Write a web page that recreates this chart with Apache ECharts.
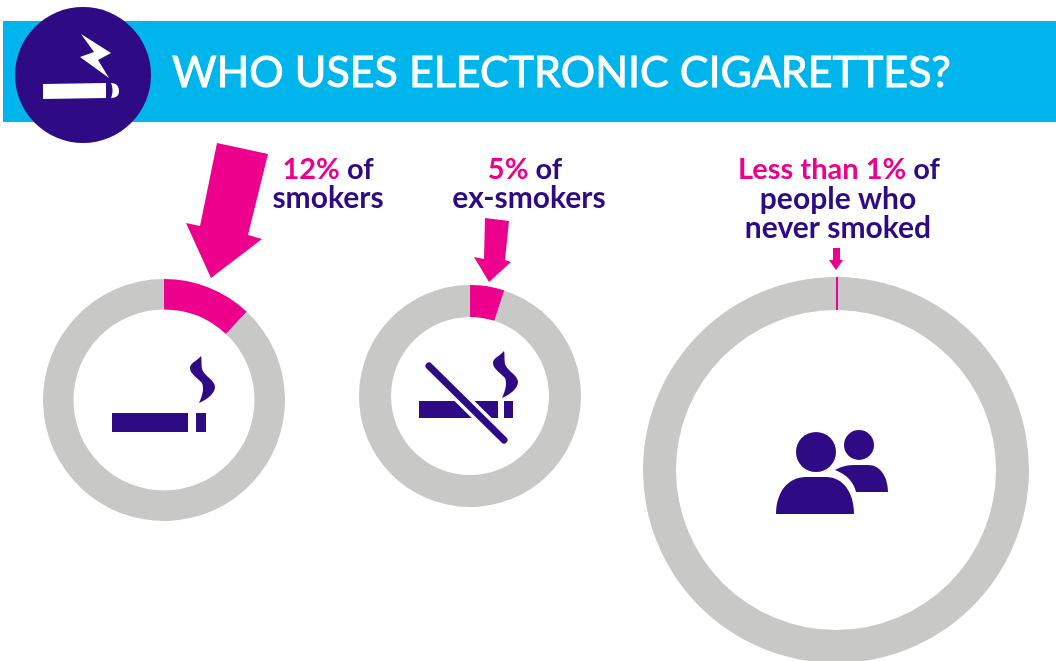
<!DOCTYPE html>
<html>
<head>
<meta charset="utf-8">
<style>html,body{margin:0;padding:0;background:#fff}#chart{width:1056px;height:661px}</style>
<script src="https://cdn.jsdelivr.net/npm/echarts@6/dist/echarts.min.js"></script>
</head>
<body>
<div id="chart"></div>
<script>
// Share of each group that uses electronic cigarettes (percent)
const groups = ['Smokers', 'Ex-smokers', 'Never smoked'];
const userShare = [12, 5, 0.2];

const titleText = 'WHO USES ELECTRONIC CIGARETTES?';
const captionLines = [
  ['{p|12%} {n|of}', '{n|smokers}'],
  ['{p|5%} {n|of}', '{n|ex-smokers}'],
  ['{p|Less than 1%} {n|of}', '{n|people who}', '{n|never smoked}']
];

const PINK = '#ec008c', NAVY = '#2e0a85', GREY = '#c8c8c6', SKY = '#00b5ec';
const FONT = 'Lato, "Open Sans", sans-serif';

const rings = [
  { center: [164, 400], radius: [90.5, 121] },
  { center: [470, 396], radius: [79, 111] },
  { center: [836, 470], radius: [160, 193] }
];

const series = groups.map((name, i) => ({
  type: 'pie',
  name,
  center: rings[i].center,
  radius: rings[i].radius,
  startAngle: 90,
  clockwise: true,
  silent: true,
  label: { show: false },
  labelLine: { show: false },
  emphasis: { disabled: true },
  data: [
    { name: 'Uses e-cigarettes', value: userShare[i], itemStyle: { color: PINK } },
    { name: 'Does not', value: 100 - userShare[i], itemStyle: { color: GREY } }
  ]
}));

function caption(x, y, text, size) {
  const rich = {
    p: { fill: PINK, fontSize: size, fontWeight: 700, fontFamily: FONT },
    n: { fill: NAVY, fontSize: size, fontWeight: 700, fontFamily: FONT }
  };
  return { type: 'text', x, y, z: 5, style: { text, align: 'center', verticalAlign: 'middle', rich, font: `700 ${size}px ${FONT}` } };
}

// Icon outlines are registered as named graphic shapes
let iconCount = 0;
function shape(pathData, fill, z) {
  const type = 'icon' + (iconCount++);
  echarts.graphic.registerShape(type, echarts.graphic.extendPath(pathData, {}));
  return { type, z: z || 5, shape: {}, style: { fill } };
}
function smoke(x, y) {
  // Curl of smoke, anchored at its top tip
  const d = `M${x} ${y} C${x - 4} ${y + 5} ${x - 11} ${y + 7} ${x - 11} ${y + 12}` +
    ` C${x - 11} ${y + 18} ${x - 3} ${y + 22} ${x + 1} ${y + 27}` +
    ` C${x + 3} ${y + 32} ${x + 2} ${y + 38} ${x - 2} ${y + 47}` +
    ` C${x + 5} ${y + 44} ${x + 14} ${y + 38} ${x + 14} ${y + 31}` +
    ` C${x + 14} ${y + 24} ${x + 3} ${y + 20} ${x + 1} ${y + 13}` +
    ` C${x} ${y + 8} ${x + 1} ${y + 4} ${x} ${y} Z`;
  return shape(d, NAVY);
}

const decoration = [
  // Header band and badge
  { type: 'rect', z: 1, shape: { x: 3, y: 21, width: 1053, height: 101 }, style: { fill: SKY } },
  { type: 'circle', z: 2, shape: { cx: 83, cy: 75, r: 68 }, style: { fill: NAVY } },
  shape('M43 84 L106 83 L106 98 L43 99 Z', '#fff', 3),
  shape('M111 83 C117 83 119 87 119 91 C119 95 117 98 111 98 C113 94 113 87 111 83 Z', '#fff', 3),
  shape('M81 34 L111 53 L98 60 L109 78 L80 57 L94 52 Z', '#fff', 3),
  { type: 'text', x: 172, y: 73, z: 3, style: { text: titleText, fill: '#fff', stroke: '#fff', lineWidth: 0.9, font: '400 43px ' + FONT, align: 'left', verticalAlign: 'middle' } },

  // Pointers to the highlighted slices
  { type: 'polygon', z: 6, shape: { points: [[217, 143], [268, 154], [248, 235], [262, 239], [211, 278], [186, 223], [200, 226]] }, style: { fill: PINK } },
  { type: 'polygon', z: 6, shape: { points: [[485, 218], [509, 221], [505, 260], [511, 262], [489, 282], [474, 257], [484, 259]] }, style: { fill: PINK } },
  { type: 'polygon', z: 6, shape: { points: [[833, 248], [840, 248], [840, 260], [843, 260], [836, 270], [829, 260], [833, 260]] }, style: { fill: PINK } },

  caption(328, 170, captionLines[0][0], 29),
  caption(328, 198, captionLines[0][1], 30),
  caption(525, 170, captionLines[1][0], 29),
  caption(529, 198, captionLines[1][1], 30),
  caption(839, 170, captionLines[2][0], 29),
  caption(838, 199, captionLines[2][1], 30),
  caption(838, 228, captionLines[2][2], 30),

  // Cigarette
  { type: 'rect', z: 5, shape: { x: 112, y: 413, width: 76, height: 19 }, style: { fill: NAVY } },
  { type: 'rect', z: 5, shape: { x: 196, y: 413, width: 10, height: 19 }, style: { fill: NAVY } },
  smoke(201, 356),

  // Crossed-out cigarette
  { type: 'rect', z: 5, shape: { x: 419, y: 401, width: 79, height: 17 }, style: { fill: NAVY } },
  { type: 'rect', z: 5, shape: { x: 504, y: 401, width: 9, height: 17 }, style: { fill: NAVY } },
  smoke(504, 351),
  { type: 'line', z: 6, shape: { x1: 429, y1: 366, x2: 504, y2: 440 }, style: { stroke: '#fff', lineWidth: 14 } },
  { type: 'line', z: 7, shape: { x1: 429, y1: 366, x2: 504, y2: 440 }, style: { stroke: NAVY, lineWidth: 7, lineCap: 'round' } },

  // Two people
  { type: 'circle', z: 5, shape: { cx: 859, cy: 445, r: 15 }, style: { fill: NAVY } },
  shape('M835 470 C842 466 848 465 856 465 L868 465 C881 465 888 478 888 492 L856 492 C854 482 846 474 835 470 Z', NAVY),
  { type: 'circle', z: 5, shape: { cx: 816, cy: 452, r: 20 }, style: { fill: NAVY } },
  shape('M776 514 C776 492 788 477 806 477 L826 477 C844 477 854 494 854 514 Z', NAVY)
];

const chart = echarts.init(document.getElementById('chart'), null, { renderer: 'canvas' });
chart.setOption({
  animation: false,
  backgroundColor: '#ffffff',
  series,
  graphic: { elements: decoration }
});
</script>
</body>
</html>
